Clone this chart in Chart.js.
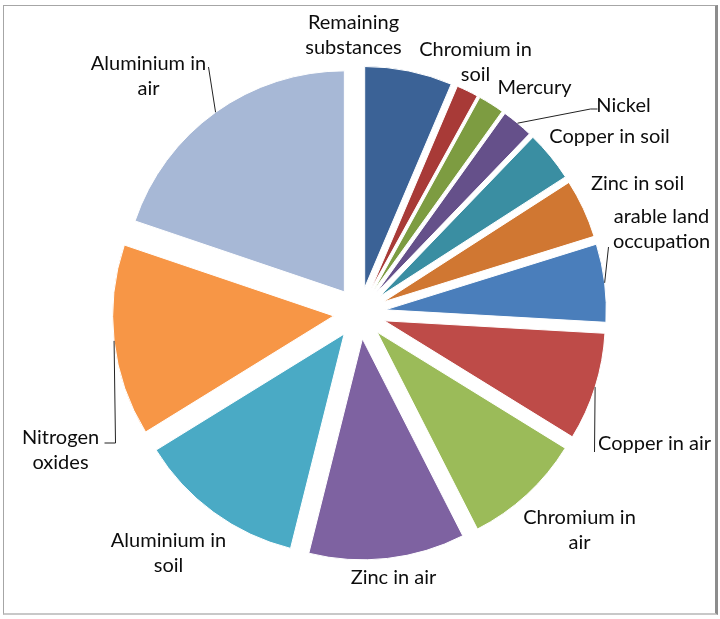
<!DOCTYPE html>
<html>
<head>
<meta charset="utf-8">
<script src="https://cdn.jsdelivr.net/npm/chart.js@4"></script>
<style>
  html, body { margin: 0; padding: 0; background: #fff; }
  #wrap { position: relative; width: 720px; height: 619px; }
  #frame {
    position: absolute; left: 3px; top: 5px; width: 711px; height: 607px;
    border: 1px solid #a6a6a6; border-right: 3px solid #8c8c8c; border-bottom: 2px solid #c8c8c8;
    pointer-events: none;
  }
</style>
</head>
<body>
<div id="wrap">
  <canvas id="pieChart" width="720" height="619"></canvas>
  <div id="frame"></div>
</div>
<script>
// slices, clockwise from 12 o'clock (share in %)
const substances = [
  'Remaining substances', 'Chromium in soil', 'Mercury', 'Nickel', 'Copper in soil',
  'Zinc in soil', 'arable land occupation', 'Copper in air', 'Chromium in air',
  'Zinc in air', 'Aluminium in soil', 'Nitrogen oxides', 'Aluminium in air'
];
const shares = [6.4, 1.6, 1.9, 2.3, 3.7, 4.3, 5.7, 7.9, 8.7, 11.4, 12.3, 14.0, 19.8];

const sliceColors = [
  '#3b6296', '#a83a37', '#7d9c41', '#65508a', '#3a8ea2', '#d07732', '#4a7ebb',
  '#be4b48', '#9bbb59', '#7e62a1', '#4aaac5', '#f79646', '#a7b8d6'
];

// label text lines and where they sit, relative to the pie centre
const labelLines = [
  ['Remaining', 'substances'], ['Chromium in', 'soil'], ['Mercury'], ['Nickel'], ['Copper in soil'],
  ['Zinc in soil'], ['arable land', 'occupation'], ['Copper in air'], ['Chromium in', 'air'],
  ['Zinc in air'], ['Aluminium in', 'soil'], ['Nitrogen', 'oxides'], ['Aluminium in', 'air']
];
const labelOffsets = [
  [-6, -278], [116, -251], [175, -225], [264, -207], [250, -176], [278, -129], [302, -84],
  [295, 131], [220, 217], [34, 265], [-191, 240], [-299, 137], [-211, -237]
];
// leader lines: extra points after the slice edge (null = no leader)
const leaders = [
  null, null, null, [[231, -204], [238, -204]], null, null, [[249, -66]],
  [[235, 139]], null, null, null, [[-244, 130], [-255, 130]], [[-151, -246]]
];

// every slice is pulled out this many px along its bisector
const explode = 26;

// draw the arcs shifted outwards (chart.js' own offset also resizes thin slices)
const explodedPie = {
  id: 'explodedPie',
  beforeDatasetDraw(chart, args) {
    const ctx = chart.ctx;
    args.meta.data.forEach(arc => {
      const mid = (arc.startAngle + arc.endAngle) / 2;
      ctx.save();
      ctx.translate(Math.cos(mid) * explode, Math.sin(mid) * explode);
      arc.draw(ctx, chart.chartArea);
      ctx.restore();
    });
    return false;
  }
};

const outsideLabels = {
  id: 'outsideLabels',
  afterDatasetsDraw(chart) {
    const ctx = chart.ctx;
    const arcs = chart.getDatasetMeta(0).data;
    ctx.save();
    ctx.font = '20px Lato, "Open Sans", sans-serif';
    ctx.fillStyle = '#0d0d0d';
    ctx.strokeStyle = '#222';
    ctx.lineWidth = 1;
    ctx.textAlign = 'center';
    ctx.textBaseline = 'middle';
    arcs.forEach((arc, i) => {
      const p = arc.getProps(['x', 'y', 'startAngle', 'endAngle', 'outerRadius'], true);
      const mid = (p.startAngle + p.endAngle) / 2;
      if (leaders[i]) {
        const r = p.outerRadius + explode;
        ctx.beginPath();
        ctx.moveTo(p.x + Math.cos(mid) * r, p.y + Math.sin(mid) * r);
        leaders[i].forEach(pt => ctx.lineTo(p.x + pt[0], p.y + pt[1]));
        ctx.stroke();
      }
      const lines = labelLines[i];
      const lh = 25;
      const cx = p.x + labelOffsets[i][0];
      const cy = p.y + labelOffsets[i][1];
      lines.forEach((t, k) => {
        ctx.fillText(t, cx, cy + (k - (lines.length - 1) / 2) * lh);
      });
    });
    ctx.restore();
  }
};

new Chart(document.getElementById('pieChart').getContext('2d'), {
  type: 'pie',
  data: {
    labels: substances,
    datasets: [{
      data: shares,
      backgroundColor: sliceColors,
      borderColor: '#ffffff',
      borderWidth: 1
    }]
  },
  options: {
    responsive: false,
    animation: false,
    radius: 221,
    layout: { padding: { left: 0, right: 1, top: 7, bottom: 0 } },
    plugins: {
      legend: { display: false },
      tooltip: { enabled: false }
    }
  },
  plugins: [explodedPie, outsideLabels]
});
</script>
</body>
</html>
